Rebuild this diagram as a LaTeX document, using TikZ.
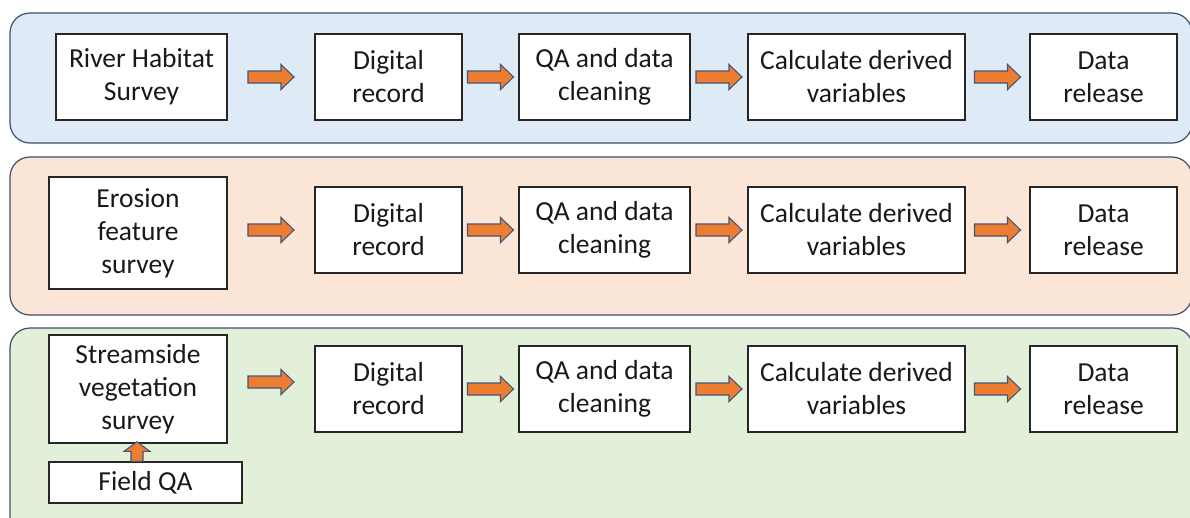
\documentclass[tikz,border=0pt]{standalone}
\usepackage{fontspec}
\setmainfont{Carlito}
\usetikzlibrary{calc}
\definecolor{pblue}{HTML}{DEEBF7}
\definecolor{porange}{HTML}{FBE5D6}
\definecolor{pgreen}{HTML}{E2F0D9}
\definecolor{pborder}{HTML}{3B4E6E}
\definecolor{aorange}{HTML}{ED7D31}
\definecolor{aborder}{HTML}{41577A}
\tikzset{
  panel/.style={draw=pborder, line width=1.2pt, rounded corners=20pt},
  stepbox/.style={draw=black!85, line width=1.3pt, fill=white, inner sep=0pt,
    font=\fontsize{27.5}{33}\selectfont, align=center, text=black!90},
  blockarrow/.style={draw=aborder, line width=1.1pt, fill=aorange, line join=miter}
}
\newcommand{\boxat}[6]{% name, x1, y1, x2, y2, text
  \node[stepbox, minimum width={(#4-#2)*1pt}, minimum height={(#5-#3)*1pt}]
    (#1) at ({(#2+#4)/2},{(#3+#5)/2}) {#6};}
\newcommand{\rarrow}[2]{%
  \path (#1.east) -- coordinate[pos=0.5] (m#1#2) (#2.west);
  \draw[blockarrow] ([shift={(-23,-6)}]m#1#2) -- ++(33,0) -- ++(0,-6.5) -- ++(13,12.5)
    -- ++(-13,12.5) -- ++(0,-6.5) -- ++(-33,0) -- cycle;}
\begin{document}
\begin{tikzpicture}[x=1pt,y=-1pt]
\useasboundingbox (0,0) rectangle (1190,517);
% panels
\draw[panel, fill=pblue] (10,13) rectangle (1192,143);
\draw[panel, fill=porange] (10,157) rectangle (1192,315);
\draw[panel, fill=pgreen] (10,328) rectangle (1193,540);
% row 1
\boxat{a1}{56}{34}{227}{120}{River Habitat\\Survey}
\boxat{b1}{315}{34}{462}{120}{Digital\\record}
\boxat{c1}{519}{34}{690}{120}{QA and data\\cleaning}
\boxat{d1}{748}{34}{965}{120}{Calculate derived\\variables}
\boxat{e1}{1030}{34}{1177}{120}{Data\\release}
% row 2
\boxat{a2}{49}{177}{227}{289}{Erosion\\feature\\survey}
\boxat{b2}{315}{187}{462}{273}{Digital\\record}
\boxat{c2}{519}{187}{690}{273}{QA and data\\cleaning}
\boxat{d2}{748}{187}{965}{273}{Calculate derived\\variables}
\boxat{e2}{1030}{187}{1177}{273}{Data\\release}
% row 3
\boxat{a3}{49}{335}{227}{443}{Streamside\\vegetation\\survey}
\boxat{f3}{49}{462}{242}{503}{Field QA}
\boxat{b3}{315}{346}{462}{432}{Digital\\record}
\boxat{c3}{519}{346}{690}{432}{QA and data\\cleaning}
\boxat{d3}{748}{346}{965}{432}{Calculate derived\\variables}
\boxat{e3}{1030}{346}{1177}{432}{Data\\release}
% arrows
\rarrow{a1}{b1}\rarrow{b1}{c1}\rarrow{c1}{d1}\rarrow{d1}{e1}
\rarrow{b2}{c2}\rarrow{c2}{d2}\rarrow{d2}{e2}
\rarrow{b3}{c3}\rarrow{c3}{d3}\rarrow{d3}{e3}
% row 2 and 3 first arrows (source box is taller / offset)
\coordinate (s2) at (a2.east |- b2.west);
\path (s2) -- coordinate[pos=0.5] (ms2) (b2.west);
\draw[blockarrow] ([shift={(-23,-6)}]ms2) -- ++(33,0) -- ++(0,-6.5) -- ++(13,12.5)
    -- ++(-13,12.5) -- ++(0,-6.5) -- ++(-33,0) -- cycle;
\coordinate (s3) at (a3.east |- 0,382);
\coordinate (t3) at (b3.west |- 0,382);
\path (s3) -- coordinate[pos=0.5] (ms3) (t3);
\draw[blockarrow] ([shift={(-23,-6)}]ms3) -- ++(33,0) -- ++(0,-6.5) -- ++(13,12.5)
    -- ++(-13,12.5) -- ++(0,-6.5) -- ++(-33,0) -- cycle;
% up arrow Field QA -> Streamside
\coordinate (u0) at (f3.north -| 137,0);
\draw[blockarrow] ([shift={(-6,0)}]u0) -- ++(0,-10) -- ++(-7,0) -- ++(13,-9.5)
    -- ++(13,9.5) -- ++(-7,0) -- ++(0,10) -- cycle;
\end{tikzpicture}
\end{document}
